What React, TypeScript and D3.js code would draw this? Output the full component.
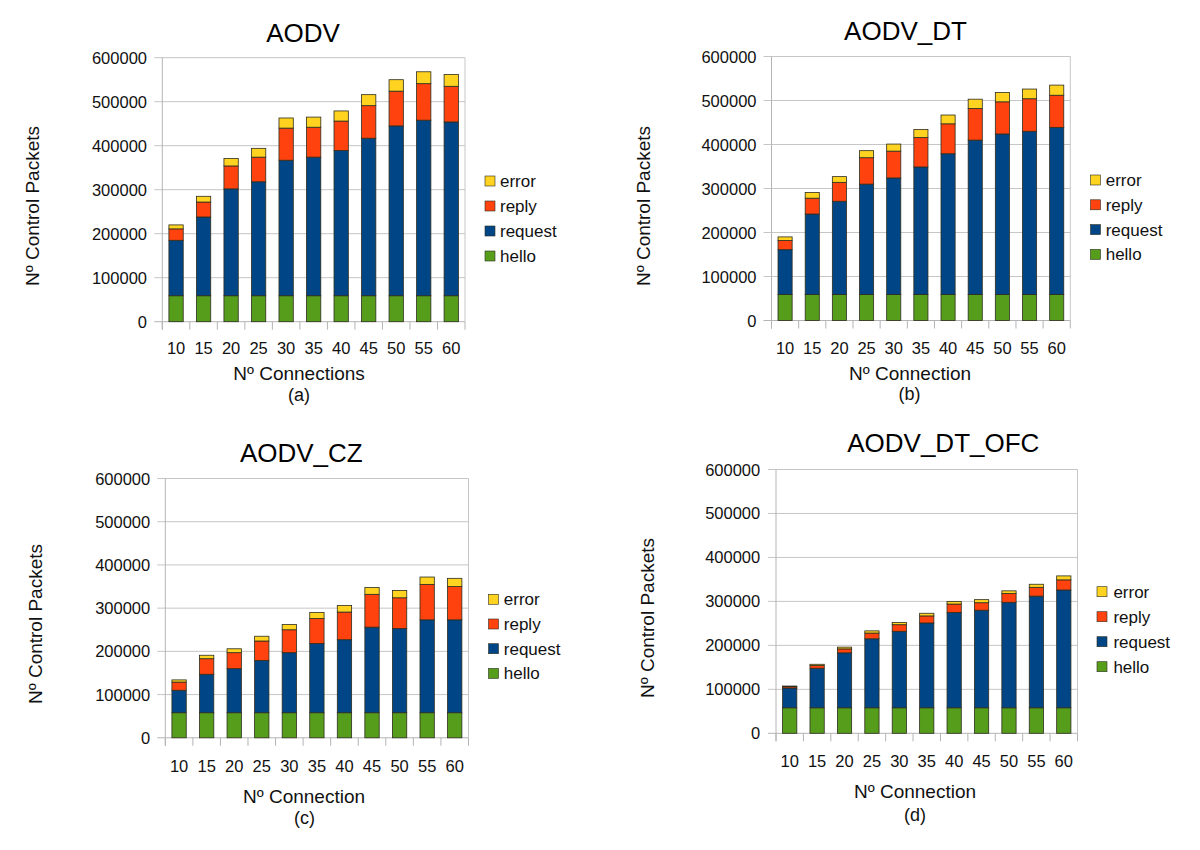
import React from "react";
import * as d3 from "d3";

const categories = ["10", "15", "20", "25", "30", "35", "40", "45", "50", "55", "60"];
const yTicks = [0, 100000, 200000, 300000, 400000, 500000, 600000];
const seriesKeys = ["hello", "request", "reply", "error"];
const legendOrder = ["error", "reply", "request", "hello"];
const seriesColors: Record<string, string> = {
  hello: "#579d1c",
  request: "#004586",
  reply: "#ff420e",
  error: "#ffd320",
};

// (a) AODV
const aodvHello = [59000, 59000, 59000, 59000, 59000, 59000, 59000, 59000, 59000, 59000, 59000];
const aodvRequest = [126000, 179000, 243000, 259000, 308000, 315000, 330000, 358000, 386000, 399000, 395000];
const aodvReply = [26000, 34000, 52000, 56000, 73000, 68000, 67000, 74000, 79000, 83000, 81000];
const aodvError = [9000, 13000, 17000, 20000, 23000, 23000, 23000, 25000, 26000, 27000, 27000];

// (b) AODV_DT
const dtHello = [59000, 59000, 59000, 59000, 59000, 59000, 59000, 59000, 59000, 59000, 59000];
const dtRequest = [102000, 183000, 212000, 251000, 265000, 290000, 320000, 351000, 365000, 371000, 380000];
const dtReply = [21000, 36000, 43000, 60000, 61000, 67000, 68000, 72000, 73000, 74000, 73000];
const dtError = [8000, 13000, 13000, 16000, 16000, 18000, 20000, 21000, 21000, 22000, 23000];

// (c) AODV_CZ
const czHello = [58000, 58000, 58000, 58000, 58000, 58000, 58000, 58000, 58000, 58000, 58000];
const czRequest = [52000, 89000, 102000, 121000, 139000, 160000, 169000, 198000, 195000, 215000, 215000];
const czReply = [19000, 36000, 37000, 45000, 53000, 58000, 64000, 76000, 71000, 82000, 77000];
const czError = [5000, 8000, 9000, 11000, 12000, 14000, 15000, 16000, 17000, 17000, 19000];

// (d) AODV_DT_OFC
const ofcHello = [58000, 58000, 58000, 58000, 58000, 58000, 58000, 58000, 58000, 58000, 58000];
const ofcRequest = [45000, 90000, 125000, 157000, 174000, 193000, 217000, 222000, 240000, 254000, 268000];
const ofcReply = [3000, 6000, 9000, 13000, 15000, 16000, 19000, 17000, 20000, 20000, 23000];
const ofcError = [1500, 3000, 4000, 5000, 5000, 6000, 6000, 7000, 6000, 7000, 9000];

const FONT = "'Liberation Sans', Arial, Helvetica, sans-serif";

const panels = [
  {
    title: "AODV", xLabel: "Nº Connections", sub: "(a)",
    data: { hello: aodvHello, request: aodvRequest, reply: aodvReply, error: aodvError },
    x0: 162.3, x1: 465, yTop: 57.7, yBottom: 321.7,
    titleX: 303, titleY: 42, tickRight: 147, catY: 354,
    xLabelX: 299, xLabelY: 380, subX: 299, subY: 401,
    yLabelX: 39, yLabelY: 206,
    legSqX: 485, legTextX: 500, legY0: 181, legStep: 25,
  },
  {
    title: "AODV_DT", xLabel: "Nº Connection", sub: "(b)",
    data: { hello: dtHello, request: dtRequest, reply: dtReply, error: dtError },
    x0: 771.5, x1: 1070.3, yTop: 56.5, yBottom: 320.5,
    titleX: 905.5, titleY: 39.5, tickRight: 756.5, catY: 353.5,
    xLabelX: 910, xLabelY: 380, subX: 909.6, subY: 400,
    yLabelX: 649.5, yLabelY: 206,
    legSqX: 1090.5, legTextX: 1105.7, legY0: 180, legStep: 24.8,
  },
  {
    title: "AODV_CZ", xLabel: "Nº Connection", sub: "(c)",
    data: { hello: czHello, request: czRequest, reply: czReply, error: czError },
    x0: 165.3, x1: 468.5, yTop: 478.5, yBottom: 737.8,
    titleX: 301.3, titleY: 461.5, tickRight: 150.2, catY: 771.7,
    xLabelX: 304, xLabelY: 802.7, subX: 304.6, subY: 824,
    yLabelX: 42, yLabelY: 624,
    legSqX: 488.5, legTextX: 503.8, legY0: 599.3, legStep: 24.7,
  },
  {
    title: "AODV_DT_OFC", xLabel: "Nº Connection", sub: "(d)",
    data: { hello: ofcHello, request: ofcRequest, reply: ofcReply, error: ofcError },
    x0: 776, x1: 1077.5, yTop: 469.5, yBottom: 733.3,
    titleX: 943.3, titleY: 452, tickRight: 760.2, catY: 766.7,
    xLabelX: 915, xLabelY: 798.3, subX: 915, subY: 821,
    yLabelX: 653.5, yLabelY: 618,
    legSqX: 1097, legTextX: 1113.4, legY0: 591.7, legStep: 25,
  },
];

const GRID = "#c6c6c6";
const AXIS = "#b4b4b4";
const TXT = "#111";

function Panel({ p }: { p: any }) {
  const x = d3
    .scaleBand<string>()
    .domain(categories)
    .range([p.x0, p.x1])
    .paddingInner(0.48)
    .paddingOuter(0.24);
  const y = d3.scaleLinear().domain([0, 600000]).range([p.yBottom, p.yTop]);
  const rows = categories.map((c, i) => ({
    cat: c,
    hello: p.data.hello[i],
    request: p.data.request[i],
    reply: p.data.reply[i],
    error: p.data.error[i],
  }));
  const stacked = d3.stack<any>().keys(seriesKeys)(rows);
  const step = x.step();
  const boundaries = d3.range(categories.length + 1).map((i) => p.x0 + i * step);

  return (
    <g>
      {/* gridlines and y ticks */}
      {yTicks.map((t) => (
        <g key={t}>
          <line x1={p.x0 - 8} x2={p.x1} y1={y(t)} y2={y(t)} stroke={t === 0 ? AXIS : GRID} strokeWidth={1} />
          <text
            x={p.tickRight}
            y={y(t) + 6}
            textAnchor="end"
            fontFamily={FONT}
            fontSize={16.5}
            fill={TXT}
          >
            {t}
          </text>
        </g>
      ))}
      {/* right border */}
      <line x1={p.x1} x2={p.x1} y1={p.yTop} y2={p.yBottom} stroke={GRID} strokeWidth={1} />
      {/* x tick marks */}
      {boundaries.map((bx, i) => (
        <line key={i} x1={bx} x2={bx} y1={p.yBottom} y2={p.yBottom + 8} stroke={AXIS} strokeWidth={1} />
      ))}
      {/* left axis */}
      <line x1={p.x0} x2={p.x0} y1={p.yTop} y2={p.yBottom + 8} stroke={AXIS} strokeWidth={1} />
      {/* bars */}
      {stacked.map((s) => (
        <g key={s.key} fill={seriesColors[s.key]}>
          {s.map((d: any, i: number) => (
            <rect
              key={i}
              x={x(d.data.cat)}
              width={x.bandwidth()}
              y={y(d[1])}
              height={Math.max(0, y(d[0]) - y(d[1]))}
              stroke="#2d2d1e"
              strokeWidth={0.8}
            />
          ))}
        </g>
      ))}
      {/* category labels */}
      {categories.map((c) => (
        <text
          key={c}
          x={(x(c) as number) + x.bandwidth() / 2}
          y={p.catY}
          textAnchor="middle"
          fontFamily={FONT}
          fontSize={16.5}
          fill={TXT}
        >
          {c}
        </text>
      ))}
      {/* title */}
      <text x={p.titleX} y={p.titleY} textAnchor="middle" fontFamily={FONT} fontSize={26} fill="#000">
        {p.title}
      </text>
      {/* x label */}
      <text x={p.xLabelX} y={p.xLabelY} textAnchor="middle" fontFamily={FONT} fontSize={19} fill={TXT}>
        {p.xLabel}
      </text>
      <text x={p.subX} y={p.subY} textAnchor="middle" fontFamily={FONT} fontSize={18} fill={TXT}>
        {p.sub}
      </text>
      {/* y label */}
      <text
        transform={`translate(${p.yLabelX},${p.yLabelY}) rotate(-90)`}
        textAnchor="middle"
        fontFamily={FONT}
        fontSize={19}
        fill={TXT}
      >
        Nº Control Packets
      </text>
      {/* legend */}
      {legendOrder.map((k, i) => {
        const cy = p.legY0 + i * p.legStep;
        return (
          <g key={k}>
            <rect x={p.legSqX} y={cy - 5} width={10} height={10} fill={seriesColors[k]} stroke="#2d2d1e" strokeWidth={0.6} />
            <text x={p.legTextX} y={cy + 6} fontFamily={FONT} fontSize={17} fill={TXT}>
              {k}
            </text>
          </g>
        );
      })}
    </g>
  );
}

export default function App() {
  return (
    <svg
      width={1200}
      height={850}
      style={{ position: "absolute", left: 0, top: 0, background: "#fff" }}
    >
      <rect x={0} y={0} width={1200} height={850} fill="#fff" />
      {panels.map((p) => (
        <Panel key={p.title} p={p} />
      ))}
    </svg>
  );
}
